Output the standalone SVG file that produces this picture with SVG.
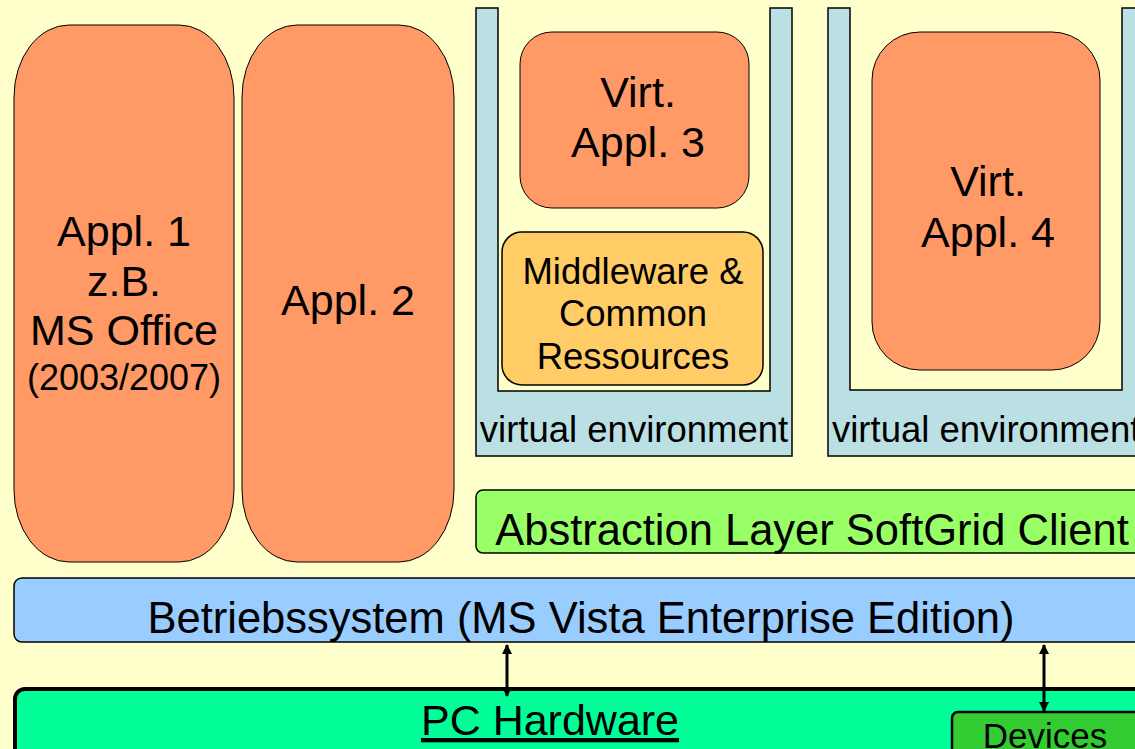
<svg xmlns="http://www.w3.org/2000/svg" width="1135" height="749" viewBox="0 0 1135 749">
<defs>
<style>
text{font-family:"Liberation Sans",Arial,sans-serif;fill:#000;text-anchor:middle}
.app{fill:#FF9966;stroke:#000;stroke-width:1}
.venv{fill:#BBE0E3;stroke:#000;stroke-width:1.5}
.big{font-size:43px}
.mid{font-size:36.5px}
.conn{stroke:#000;stroke-width:3;fill:none;marker-start:url(#ah);marker-end:url(#ah)}
</style>
<marker id="ah" viewBox="0 0 10 10" refX="9" refY="5" markerWidth="3.4" markerHeight="3.8" orient="auto-start-reverse" markerUnits="strokeWidth">
<path d="M0,0 L10,5 L0,10 Z" fill="#000"/>
</marker>
</defs>
<rect width="1135" height="749" fill="#FFFFCC"/>

<g id="appl1">
<rect class="app" x="14" y="25" width="220" height="537" rx="55" ry="72"/>
<text class="big" x="124" y="246">Appl. 1</text>
<text class="big" x="124" y="296">z.B.</text>
<text class="big" x="124" y="345">MS Office</text>
<text x="124" y="390" style="font-size:36px">(2003/2007)</text>
</g>

<g id="appl2">
<rect class="app" x="242" y="25" width="212" height="537" rx="55" ry="72"/>
<text class="big" x="348" y="315">Appl. 2</text>
</g>

<g id="venv1">
<path class="venv" d="M476,8 H498 V391 H770 V8 H792 V456 H476 Z"/>
<text class="mid" x="634" y="442">virtual environment</text>
</g>

<g id="vappl3">
<rect class="app" x="520" y="32" width="229" height="176" rx="32" ry="32"/>
<text class="big" x="638" y="107">Virt.</text>
<text class="big" x="638" y="157">Appl. 3</text>
</g>

<g id="middleware">
<rect x="502" y="232" width="261" height="153" rx="20" ry="20" fill="#FFCC66" stroke="#000" stroke-width="1.5"/>
<text class="mid" x="633" y="284">Middleware &amp;</text>
<text class="mid" x="633" y="326">Common</text>
<text class="mid" x="633" y="369">Ressources</text>
</g>

<g id="venv2">
<path class="venv" d="M828,8 H850 V390 H1122 V8 H1145 V456 H828 Z"/>
<text class="mid" x="832" y="442" style="text-anchor:start">virtual environment</text>
</g>

<g id="vappl4">
<rect class="app" x="872" y="32" width="228" height="338" rx="48" ry="48"/>
<text class="big" x="988" y="196">Virt.</text>
<text class="big" x="988" y="247">Appl. 4</text>
</g>

<g id="abstraction">
<rect x="476" y="490" width="680" height="63" rx="7" ry="7" fill="#99FF66" stroke="#000" stroke-width="1.5"/>
<text x="812" y="545" style="font-size:43.5px">Abstraction Layer SoftGrid Client</text>
</g>

<g id="betriebssystem">
<rect x="14" y="578" width="1140" height="64" rx="8" ry="8" fill="#99CCFF" stroke="#000" stroke-width="1.5"/>
<text x="581" y="633" style="font-size:43.5px">Betriebssystem (MS Vista Enterprise Edition)</text>
</g>

<g id="hardware">
<rect x="15" y="689" width="1140" height="70" rx="10" ry="10" fill="#00FF99" stroke="#000" stroke-width="4"/>
<text class="big" x="550" y="735" style="text-decoration:underline">PC Hardware</text>
</g>

<g id="devices">
<rect x="952" y="712" width="200" height="50" rx="6" ry="6" fill="#33CC33" stroke="#000" stroke-width="2.5"/>
<text x="1045" y="748" style="font-size:35px">Devices</text>
</g>

<g id="connectors">
<line class="conn" x1="507" y1="645" x2="507" y2="696"/>
<line class="conn" x1="1044" y1="645" x2="1044" y2="711"/>
</g>
</svg>
